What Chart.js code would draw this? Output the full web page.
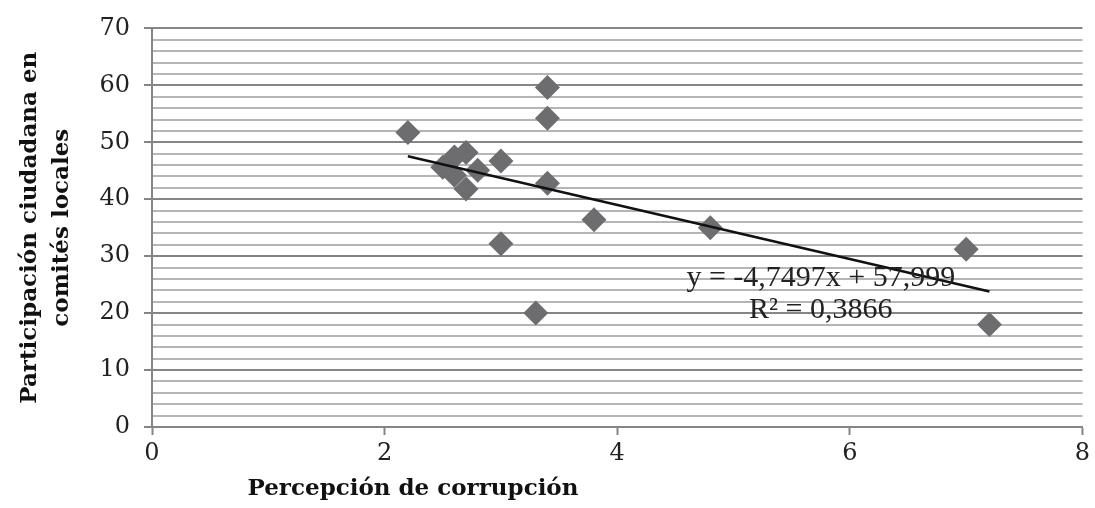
<!DOCTYPE html>
<html>
<head>
<meta charset="utf-8">
<script src="https://cdn.jsdelivr.net/npm/chart.js@4.4.1/dist/chart.umd.min.js"></script>
<style>
  body { margin: 0; background: #fff; }
  #wrap { width: 1095px; height: 508px; position: relative; }
</style>
</head>
<body>
<div id="wrap"><canvas id="scatter"></canvas></div>
<script>
// perception of corruption (x) vs citizen participation (y)
const percepcion = [2.2, 3.4, 3.4, 2.5, 2.6, 2.6, 2.7, 2.7, 2.8, 3.0, 3.4, 3.8, 3.0, 3.3, 4.8, 7.0, 7.2]
const participacion = [51.7, 59.6, 54.2, 45.6, 47.4, 44.2, 48.2, 41.8, 45.1, 46.7, 42.8, 36.4, 32.2, 20.0, 35.0, 31.2, 18.0]

// linear trend as printed on the chart
const slope = -4.7497
const intercept = 57.999
const rSquared = 0.3866

const xTicks = [0, 2, 4, 6, 8]
const yTicks = [0, 10, 20, 30, 40, 50, 60, 70]

const xTitle = 'Percepción de corrupción'
const yTitle = ['Participación ciudadana en', 'comités locales']

const majorGrid = '#858585'
const minorGrid = '#b5b5b5'
const pointGray = '#6d6d70'

const points = percepcion.map((x, i) => ({ x: x, y: participacion[i] }))
const xMin = Math.min(...percepcion)
const xMax = Math.max(...percepcion)
const trend = [xMin, xMax].map((x) => ({ x: x, y: slope * x + intercept }))

const fmt = (n) => String(n).replace('.', ',')

// trendline label + x title (the title sits left of centre in the original)
const extraText = {
  id: 'extraText',
  afterDatasetsDraw(chart) {
    const { ctx, scales, chartArea } = chart
    const cx = scales.x.getPixelForValue(5.75)
    ctx.save()
    ctx.fillStyle = '#222'
    ctx.font = '30px "Liberation Serif"'
    ctx.textAlign = 'center'
    ctx.textBaseline = 'middle'
    ctx.fillText('y = ' + fmt(slope) + 'x + ' + fmt(intercept), cx, scales.y.getPixelForValue(26.1))
    ctx.fillText('R² = ' + fmt(rSquared), cx, scales.y.getPixelForValue(20.5))

    ctx.fillStyle = '#111'
    ctx.font = 'bold 23px "DejaVu Serif"'
    ctx.fillText(xTitle, chartArea.left + 261, chartArea.bottom + 62)
    ctx.restore()
  }
}

new Chart(document.getElementById('scatter'), {
  type: 'scatter',
  data: {
    datasets: [
      {
        data: points,
        pointStyle: 'rectRot',
        pointRadius: 12.5,
        pointHoverRadius: 12.5,
        backgroundColor: pointGray,
        borderColor: pointGray,
        borderWidth: 0,
        order: 2
      },
      {
        type: 'line',
        data: trend,
        borderColor: '#111',
        borderWidth: 2.5,
        pointRadius: 0,
        fill: false,
        order: 1
      }
    ]
  },
  options: {
    responsive: true,
    maintainAspectRatio: false,
    animation: false,
    layout: { padding: { top: 27, right: -4, left: 10, bottom: 0 } },
    plugins: {
      legend: { display: false },
      tooltip: { enabled: false }
    },
    scales: {
      x: {
        type: 'linear',
        min: xTicks[0],
        max: xTicks[xTicks.length - 1],
        afterBuildTicks: (scale) => { scale.ticks = xTicks.map((v) => ({ value: v })) },
        afterFit: (scale) => { scale.height = 81 },
        ticks: {
          color: '#222',
          font: { family: 'DejaVu Serif', size: 24 },
          padding: 4
        },
        grid: {
          drawOnChartArea: false,
          tickLength: 8,
          tickWidth: 2,
          tickColor: majorGrid
        },
        border: { color: majorGrid, width: 2 }
      },
      y: {
        type: 'linear',
        min: yTicks[0],
        max: yTicks[yTicks.length - 1],
        ticks: {
          stepSize: 2,
          autoSkip: false,
          color: '#222',
          font: { family: 'DejaVu Serif', size: 24 },
          padding: 14,
          callback: (v) => (yTicks.includes(v) ? v : '')
        },
        afterFit: (scale) => { scale.width = 142 },
        grid: {
          lineWidth: 2,
          color: (c) => (c.tick && yTicks.includes(c.tick.value) ? majorGrid : minorGrid),
          tickLength: 8,
          tickWidth: 2,
          tickColor: (c) => (c.tick && yTicks.includes(c.tick.value) ? majorGrid : 'rgba(0,0,0,0)')
        },
        border: { color: majorGrid, width: 2 },
        title: {
          display: true,
          text: yTitle,
          color: '#111',
          font: { family: 'DejaVu Serif', size: 23, weight: 'bold', lineHeight: 1.4 },
          padding: { bottom: 8 }
        }
      }
    }
  },
  plugins: [extraText]
})
</script>
</body>
</html>
